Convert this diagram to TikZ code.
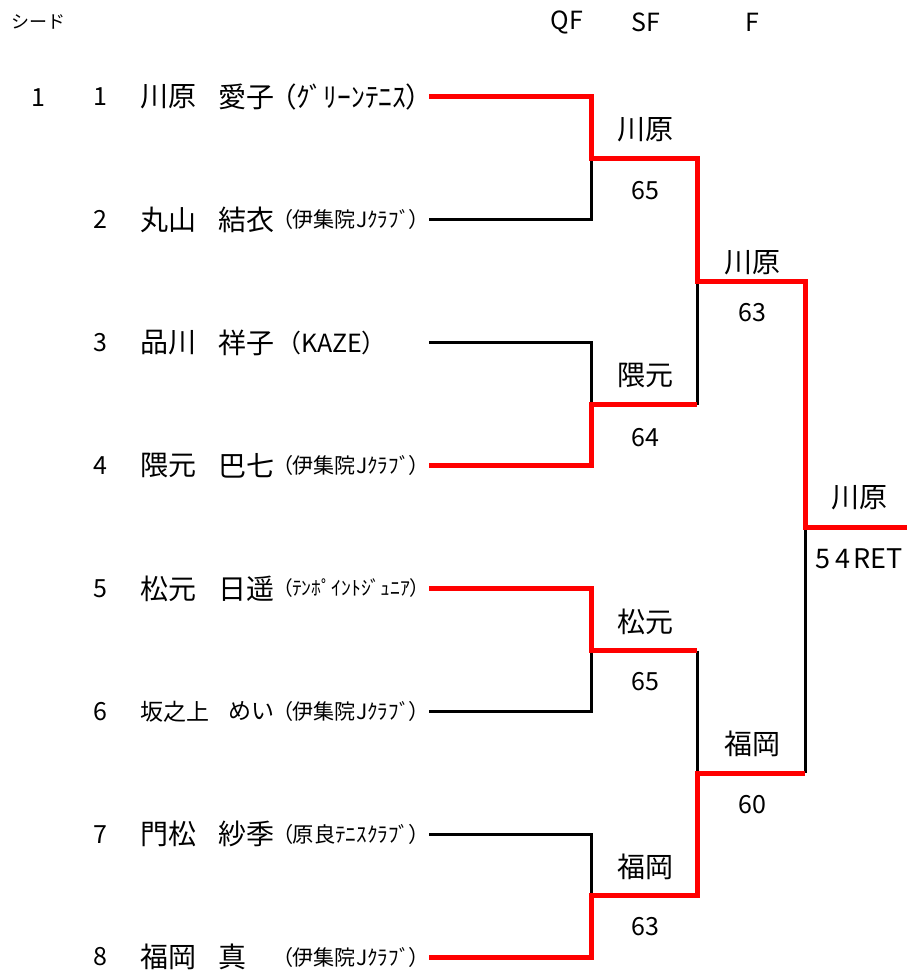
\documentclass[tikz,border=0pt]{standalone}
\usepackage{fontspec}
\setmainfont{Noto Sans CJK JP}
\usepackage{graphicx}
\tikzset{
  winline/.style={line width=5pt,red},
  loseline/.style={line width=3pt,black},
  namebox/.style={anchor=west,inner sep=0pt,font=\fontsize{28}{28}\selectfont},
  clubbox/.style={anchor=west,inner sep=0pt,font=\fontsize{30}{30}\selectfont\addfontfeatures{RawFeature=+palt}},
  lbl/.style={inner sep=0pt,font=\fontsize{28}{28}\selectfont},
  score/.style={inner sep=0pt,font=\fontsize{25}{25}\selectfont},
  hd/.style={inner sep=0pt,font=\fontsize{25}{25}\selectfont},
}
\newsavebox{\clubsbox}
\newcommand{\clubfit}[1]{\sbox{\clubsbox}{#1}\ifdim\wd\clubsbox>138pt\resizebox{138pt}{!}{#1}\else#1\fi}
\begin{document}
\begin{tikzpicture}[x=1pt,y=-1pt]
  \useasboundingbox (0,0) rectangle (907,979);
  \node[inner sep=0pt,font=\fontsize{18}{18}\selectfont] (seedhd) at (38,22) {シード};
  \node[hd] (qfhd) at (567,22) {QF};
  \node[hd] (sfhd) at (646,22) {SF};
  \node[hd] (fhd) at (752,22) {F};
  \node[score] (seed1) at (38,98) {1};
  \foreach \i/\sur/\giv/\cx/\club in {1/川原/愛子/282/（ｸﾞﾘｰﾝﾃﾆｽ）,2/丸山/結衣/282/（伊集院Jｸﾗﾌﾞ）,
      3/品川/祥子/276/{\fontspec{Noto Sans CJK JP}\fontsize{25}{25}\selectfont（KAZE）},
      4/隈元/巴七/282/（伊集院Jｸﾗﾌﾞ）,5/松元/日遥/282/（ﾃﾝﾎﾟｲﾝﾄｼﾞｭﾆｱ）,
      6/{\fontsize{23}{23}\selectfont 坂之上}/{\fontsize{23}{23}\selectfont\hspace{10pt}めい}/282/（伊集院Jｸﾗﾌﾞ）,
      7/門松/紗季/282/（原良ﾃﾆｽｸﾗﾌﾞ）,8/福岡/真/282/（伊集院Jｸﾗﾌﾞ）} {%
    \pgfmathsetmacro\py{97+(\i-1)*122.86}
    \node[score] (no\i) at (100,\py) {\i};
    \node[namebox] (sur\i) at (140,\py) {\sur};
    \node[namebox] (giv\i) at (218,\py) {\giv};
    \node[clubbox] (club\i) at (\cx,\py) {\clubfit{\club}};
    \coordinate (p\i) at (429,\py);
  }
  \coordinate (q1) at (591,158.5);
  \coordinate (q2) at (591,404.5);
  \coordinate (q3) at (591,650.5);
  \coordinate (q4) at (591,895.5);
  \coordinate (s1) at (697,281.5);
  \coordinate (s2) at (697,773);
  \coordinate (f) at (805,527.5);
  \coordinate (champ) at (907,527.5);
  \draw[loseline] (p2) -| (q1);
  \draw[loseline] (p3) -| (q2);
  \draw[loseline] (p6) -| (q3);
  \draw[loseline] (p7) -| (q4);
  \draw[loseline] (q2 -| s1) -- (s1);
  \draw[loseline] (q3 -| s2) -- (s2);
  \draw[loseline] (s2 -| f) -- (f);
  \draw[winline] (p1) -| (q1) -| (s1) -| (f) -- (champ);
  \draw[winline] (p4) -| (q2) -- (q2 -| s1);
  \draw[winline] (p5) -| (q3) -- (q3 -| s2);
  \draw[winline] (p8) -| (q4) -| (s2) -- (s2 -| f);
  \node[lbl] (wq1) at (645,130) {川原};
  \node[score] (rq1) at (645,191) {65};
  \node[lbl] (wq2) at (645,375) {隈元};
  \node[score] (rq2) at (645,438) {64};
  \node[lbl] (wq3) at (645,622) {松元};
  \node[score] (rq3) at (645,682) {65};
  \node[lbl] (wq4) at (645,867) {福岡};
  \node[score] (rq4) at (645,927) {63};
  \node[lbl] (ws1) at (752,263) {川原};
  \node[score] (rs1) at (752,313) {63};
  \node[lbl] (ws2) at (752,744) {福岡};
  \node[score] (rs2) at (752,805) {60};
  \node[lbl] (wf) at (859,498) {川原};
  \node[score,font=\fontsize{27}{27}\selectfont] (rf) at (859,559) {5\kern5pt 4\kern3pt RET};
\end{tikzpicture}
\end{document}
